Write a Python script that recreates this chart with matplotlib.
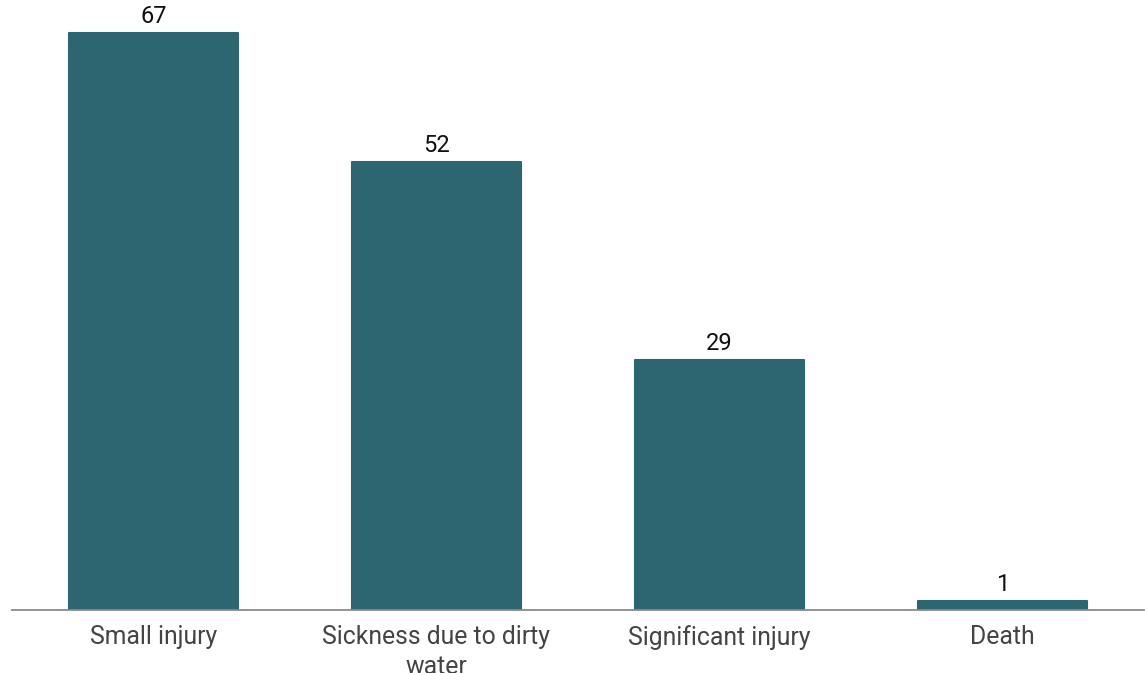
import matplotlib.pyplot as plt
import numpy as np

plt.rcParams['font.family'] = ['Roboto', 'DejaVu Sans']

categories = ['Small injury', 'Sickness due to dirty\nwater', 'Significant injury', 'Death']
counts = [67, 52, 29, 1]

bar_color = '#2d6570'

fig = plt.figure(figsize=(11.45, 6.73), dpi=100)
ax = fig.add_axes([12 / 1145, 63 / 673, 1132 / 1145, 610 / 673])

x = np.arange(len(categories))
bars = ax.bar(x, counts, width=0.6, color=bar_color, edgecolor=bar_color,
              linewidth=1.5, joinstyle='round')

for xi, v in zip(x, counts):
    ax.annotate(str(v), (xi, v), xytext=(0, 4), textcoords='offset points',
                ha='center', va='bottom', fontsize=17, color='#111111')

ax.set_xlim(-0.5, len(categories) - 0.5)
ax.set_ylim(0, 70.85)
ax.set_xticks(x)
ax.set_xticklabels(categories, fontsize=17.8, color='#444444', linespacing=1.3)
ax.tick_params(axis='x', length=0, pad=11)
ax.set_yticks([])
for side in ['top', 'right', 'left']:
    ax.spines[side].set_visible(False)
ax.spines['bottom'].set_color('#8a8a8a')
ax.spines['bottom'].set_linewidth(1.3)

fig.savefig('out.png', dpi=100)
